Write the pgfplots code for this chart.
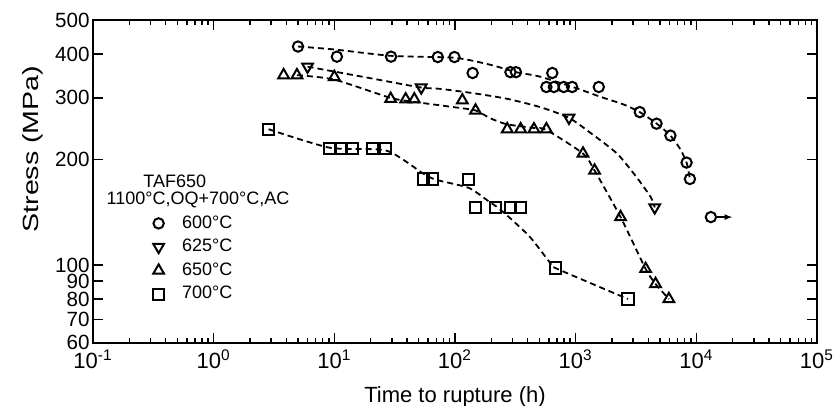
\documentclass[border=0pt]{standalone}
\usepackage{fontspec}
\setmainfont{Liberation Sans}
\newfontfamily\ylabfont[FakeStretch=1.3]{Liberation Sans}
\usepackage{pgfplots}
\pgfplotsset{compat=1.18}
\usetikzlibrary{arrows.meta}

% measured points
\pgfplotstableread{
x y
5 420
10.5 393
29.5 393
72 392
99 392
140 353
288 355
320 355
640 353
572 322
660 322
796 322
935 322
1555 322
3400 273
4680 253
6100 234
8300 196
8850 176
}\tsixhundred
\pgfplotstableread{
x y
6 368
52.5 321
880 263
4520 146
}\tsixtwofive
\pgfplotstableread{
x y
3.8 348
4.9 348
10 344
29.3 298
39 297
46 297
115 295
148 276
271 244
350 244
451 244
572 244
1150 208
1435 186
2355 137
3800 97.5
4590 88.3
5920 80
}\tsixfifty
\pgfplotstableread{
x y
2.85 244
9.2 215
11.3 215
14.1 215
20.6 215
26.6 215
55.2 176
64.8 176
130 175
148 146
217 146
289 146
349 146
681 98
2710 80
}\tsevenhundred

% dashed trend curves
\pgfplotstableread{
x y
5 420
10 412
30 395
100 390
200 372
320 355
500 345
1000 320
1600 302
2500 287
3400 273
4700 253
6100 234
7300 215
8300 196
8850 176
}\csixhundred
\pgfplotstableread{
x y
6 368
20 341
52 321
76 318
143 309
270 298
510 282
880 263
1330 238
2200 208
3200 178
4200 156
4520 146
}\csixtwofive
\pgfplotstableread{
x y
4.9 348
10 338
29 300
46 292
98 282
148 276
197 262
270 252
450 246
570 243
1150 208
1435 186
2355 137
3800 97.5
4590 88.3
5920 80
}\csixfifty
\pgfplotstableread{
x y
2.85 244
9.2 216
27 212
55 182
70 175
130 166
185 153
225 146
280 137
420 120
620 101
681 98
2710 80
}\csevenhundred

\begin{document}
\begin{tikzpicture}
\begin{axis}[
  name=ax,
  scale only axis,
  width=362pt, height=161.4pt,
  xmode=log, ymode=log,
  xmin=0.1, xmax=100000,
  ymin=60, ymax=500,
  axis line style={line width=1pt},
  tick style={line width=0.8pt, black},
  tick align=inside,
  major tick length=5pt,
  minor tick length=2.5pt,
  xtick={0.1,1,10,100,1000,10000,100000},
  xticklabels={10\textsuperscript{-1},10\textsuperscript{0},10\textsuperscript{1},10\textsuperscript{2},10\textsuperscript{3},10\textsuperscript{4},10\textsuperscript{5}},
  ytick={60,70,80,90,100,200,300,400,500},
  yticklabels={60,70,80,90,100,200,300,400,500},
  yminorticks=false,
  xticklabel style={font=\fontsize{11}{11}\selectfont},
  yticklabel style={font=\fontsize{10.3}{10}\selectfont, inner xsep=1.5pt, inner ysep=0pt, text height=7.2pt, text depth=0pt},
  xlabel={Time to rupture (h)},
  ylabel={Stress (MPa)},
  xlabel style={font=\fontsize{11}{11}\selectfont, yshift=-2pt},
  ylabel style={font=\ylabfont\fontsize{11}{11}\selectfont, at={(ticklabel cs:0.6)}, yshift=1pt},
  legend style={draw=none, fill=none, at={(rel axis cs:0.073,0.42)}, anchor=north west,
    font=\fontsize{9}{9}\selectfont, row sep=0pt},
  legend cell align=left,
  legend image code/.code={\path (-3pt,0pt) (9.5pt,0pt); \draw[#1] plot coordinates {(0pt,0pt)};},
]
\addplot[black, dashed, line width=0.9pt, dash pattern=on 3pt off 2pt, smooth, tension=0.4, forget plot] table {\csixhundred};
\addplot[black, dashed, line width=0.9pt, dash pattern=on 3pt off 2pt, smooth, tension=0.4, forget plot] table {\csixtwofive};
\addplot[black, dashed, line width=0.9pt, dash pattern=on 3pt off 2pt, smooth, tension=0.4, forget plot] table {\csixfifty};
\addplot[black, dashed, line width=0.9pt, dash pattern=on 3pt off 2pt, smooth, tension=0.4, forget plot] table {\csevenhundred};
\addplot[black, line width=0.9pt, -{Latex[length=4pt,width=3pt]}, forget plot] coordinates {(14500,137) (20000,137)};
\addplot[only marks, mark=o, mark size=2.6pt, mark options={line width=1pt, fill=white}] table {\tsixhundred};
\addlegendentry{600°C}
\addplot[only marks, mark=triangle, mark size=3.1pt, mark options={rotate=180, line width=1pt, fill=white}] table {\tsixtwofive};
\addlegendentry{625°C}
\addplot[only marks, mark=triangle, mark size=3.1pt, mark options={line width=1pt, fill=white}] table {\tsixfifty};
\addlegendentry{650°C}
\addplot[only marks, mark=square, mark size=2.8pt, mark options={line width=1pt, fill=white}] table {\tsevenhundred};
\addlegendentry{700°C}
\addplot[only marks, mark=o, mark size=2.6pt, mark options={line width=1pt, fill=white}, forget plot] coordinates {(13200,137)};
\node[font=\fontsize{9}{9}\selectfont] at (rel axis cs:0.113,0.499) {TAF650};
\node[font=\fontsize{9}{9}\selectfont] at (rel axis cs:0.145,0.442) {1100°C,OQ+700°C,AC};
\end{axis}
\pgfresetboundingbox
\path ([shift={(-46.5pt,-31.2pt)}]ax.south west) rectangle ([shift={(11pt,10pt)}]ax.north east);
\end{tikzpicture}
\end{document}
